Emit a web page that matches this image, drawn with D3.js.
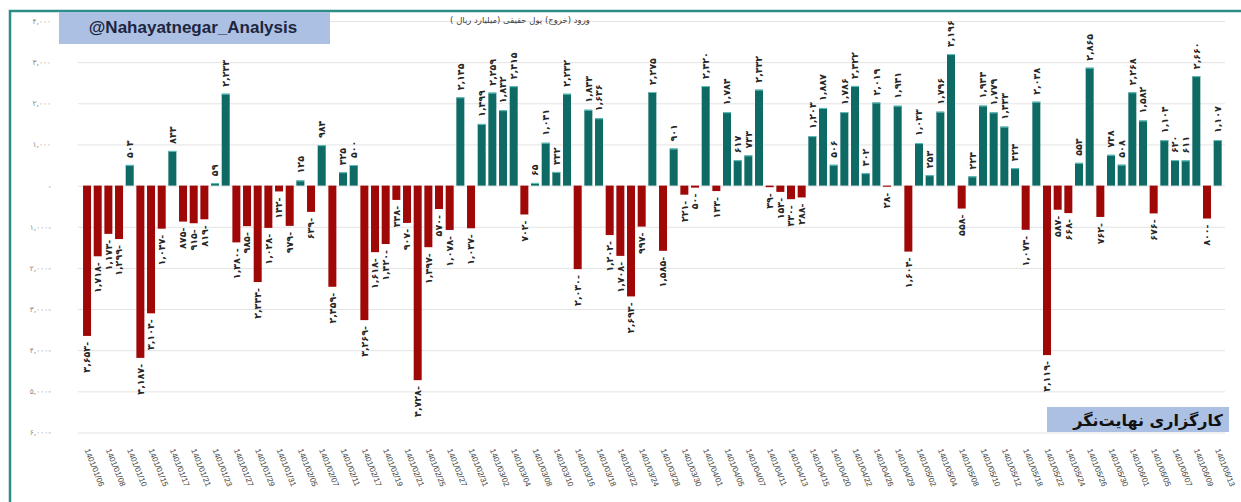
<!DOCTYPE html>
<html>
<head>
<meta charset="utf-8">
<script src="https://cdn.jsdelivr.net/npm/d3@7"></script>
<style>
  html, body { margin: 0; padding: 0; background: #ffffff; }
  svg { display: block; }
</style>
</head>
<body>
<svg id="chart" width="1241" height="502"></svg>
<script>
// ---------------- DATA ----------------
const dates = [
  "1401/01/06","1401/01/07","1401/01/08","1401/01/09","1401/01/10","1401/01/14","1401/01/15","1401/01/16",
  "1401/01/17","1401/01/20","1401/01/21","1401/01/22","1401/01/23","1401/01/24","1401/01/27","1401/01/28",
  "1401/01/29","1401/01/30","1401/01/31","1401/02/04","1401/02/05","1401/02/06","1401/02/07","1401/02/10",
  "1401/02/11","1401/02/14","1401/02/17","1401/02/18","1401/02/19","1401/02/20","1401/02/21","1401/02/24",
  "1401/02/25","1401/02/26","1401/02/27","1401/02/28","1401/02/31","1401/03/01","1401/03/02","1401/03/03",
  "1401/03/04","1401/03/07","1401/03/08","1401/03/09","1401/03/10","1401/03/11","1401/03/16","1401/03/17",
  "1401/03/18","1401/03/21","1401/03/22","1401/03/23","1401/03/24","1401/03/25","1401/03/28","1401/03/29",
  "1401/03/30","1401/03/31","1401/04/01","1401/04/04","1401/04/05","1401/04/06","1401/04/07","1401/04/08",
  "1401/04/11","1401/04/12","1401/04/13","1401/04/14","1401/04/15","1401/04/18","1401/04/20","1401/04/21",
  "1401/04/22","1401/04/25","1401/04/26","1401/04/28","1401/04/29","1401/05/01","1401/05/02","1401/05/03",
  "1401/05/04","1401/05/05","1401/05/08","1401/05/09","1401/05/10","1401/05/11","1401/05/12","1401/05/15",
  "1401/05/18","1401/05/19","1401/05/22","1401/05/23","1401/05/24","1401/05/25","1401/05/26","1401/05/29",
  "1401/05/30","1401/05/31","1401/06/01","1401/06/02","1401/06/05","1401/06/06","1401/06/07","1401/06/08",
  "1401/06/09","1401/06/12","1401/06/13"
];

// real-person money inflow (outflow), billion rials
const values = [
  -3653, -1718, -1173, -1299, 503, -4187, -3104, -1047,
  843, -875, -915, -819, 59, 2233, -1380, -985,
  -2344, -1028, -142, -979, 125, -639, 984, -2459,
  325, 500, -3269, -1618, -1420, -348, -907, -4728,
  -1497, -570, -1078, 2145, -1037, 1499, 2259, 1832,
  2415, -702, 65, 1041, 332, 2232, -2030, 1843,
  1636, -1202, -1708, -2693, -997, 2275, -1585, 901,
  -221, -50, 2420, -133, 1784, 617, 733, 2332,
  -39, -153, -330, -288, 1203, 1887, 506, 1786,
  2422, 302, 2019, -28, 1941, -1604, 1033, 253,
  1796, 3196, -558, 224, 1944, 1779, 1433, 424,
  -1074, 2038, -4119, -587, -668, 553, 2865, -762,
  748, 508, 2268, 1582, -676, 1104, 620, 611,
  2660, -800, 1107
];

const yTicks = [4000, 3000, 2000, 1000, 0, -1000, -2000, -3000, -4000, -5000, -6000];

const titleText = "@Nahayatnegar_Analysis";
const subtitleText = "ورود (خروج) پول حقیقی (میلیارد ریال )";
const brandText = "کارگزاری نهایت‌نگر";

// ---------------- HELPERS ----------------
const faDigits = "۰۱۲۳۴۵۶۷۸۹";
function toFa(str) {
  return str.replace(/[0-9]/g, d => faDigits[+d]);
}
const fmt = d3.format(",");
function labelFa(v) {
  if (v === 0) return "-";
  return v < 0 ? toFa(fmt(-v)) + "-" : toFa(fmt(v));
}

// ---------------- LAYOUT ----------------
const svg = d3.select("#chart");
const W = 1241, H = 502;

const x = d3.scaleBand()
  .domain(dates)
  .range([81.7, 1223])
  .paddingInner(0.25)
  .paddingOuter(0.125);

const y = d3.scaleLinear()
  .domain([-6000, 4000])
  .range([432.5, 21]);

const teal = "#0e6a65";
const red = "#a00808";

// outer frame
svg.append("rect")
  .attr("x", 10).attr("y", 11)
  .attr("width", W + 20).attr("height", H + 20)
  .attr("fill", "#ffffff")
  .attr("stroke", "#2f8d88")
  .attr("stroke-width", 2.5);

// gridlines + y axis labels
const yAxis = d3.axisLeft(y)
  .tickValues(yTicks)
  .tickSize(-(1225 - 78))
  .tickPadding(27)
  .tickFormat(labelFa);

const gy = svg.append("g")
  .attr("transform", "translate(78,0)")
  .call(yAxis);
gy.select(".domain").remove();
gy.selectAll(".tick line")
  .attr("stroke", "#e3e3e3")
  .attr("stroke-width", 1);
gy.selectAll(".tick text")
  .attr("fill", "#8a8a8a")
  .style("font-family", "'DejaVu Sans', sans-serif")
  .style("font-size", "7.5px");

// bars
svg.append("g")
  .selectAll("rect")
  .data(values)
  .join("rect")
  .attr("x", (d, i) => x(dates[i]))
  .attr("width", x.bandwidth())
  .attr("y", d => d >= 0 ? y(d) : y(0))
  .attr("height", d => Math.abs(y(d) - y(0)))
  .attr("fill", d => d >= 0 ? teal : red);

// light top edge for teal bars
svg.append("g")
  .selectAll("rect")
  .data(values.map((v, i) => ({v, i})).filter(d => d.v > 0))
  .join("rect")
  .attr("x", d => x(dates[d.i]))
  .attr("width", x.bandwidth())
  .attr("y", d => y(d.v))
  .attr("height", 1)
  .attr("fill", "#5fc4c0");

// data labels (rotated, reading bottom to top)
svg.append("g")
  .selectAll("text")
  .data(values)
  .join("text")
  .attr("transform", (d, i) => {
    const cx = x(dates[i]) + x.bandwidth() / 2;
    const yy = d >= 0 ? y(d) - 7 : y(d) + 6;
    return `translate(${cx},${yy}) rotate(-90)`;
  })
  .attr("dy", "0.35em")
  .attr("text-anchor", d => d >= 0 ? "start" : "end")
  .attr("fill", "#262626")
  .style("font-family", "'DejaVu Sans', sans-serif")
  .style("font-weight", "bold")
  .style("font-size", "9.5px")
  .text(labelFa);

// x axis labels (every other date)
const xAxis = d3.axisBottom(x)
  .tickValues(dates.filter((d, i) => i % 2 === 0))
  .tickSize(0)
  .tickPadding(0);
const gx = svg.append("g")
  .attr("transform", "translate(0,449)")
  .call(xAxis);
gx.select(".domain").remove();
gx.selectAll(".tick text")
  .attr("transform", "rotate(68)")
  .attr("text-anchor", "start")
  .attr("dy", "0.35em")
  .attr("x", 0).attr("y", 0)
  .attr("fill", "#404040")
  .style("font-family", "'Liberation Sans', Arial, sans-serif")
  .style("font-size", "8px");

// subtitle
svg.append("text")
  .attr("x", 520).attr("y", 23)
  .attr("text-anchor", "middle")
  .attr("direction", "rtl")
  .attr("fill", "#404040")
  .style("font-family", "'DejaVu Sans', sans-serif")
  .style("font-size", "8.5px")
  .text(subtitleText);

// title box
svg.append("rect")
  .attr("x", 59).attr("y", 12)
  .attr("width", 271).attr("height", 32)
  .attr("fill", "#abc0e2");
svg.append("text")
  .attr("x", 193).attr("y", 33)
  .attr("text-anchor", "middle")
  .attr("fill", "#1d2640")
  .style("font-family", "'Liberation Sans', Arial, sans-serif")
  .style("font-weight", "bold")
  .style("font-size", "17px")
  .text(titleText);

// brand box
svg.append("rect")
  .attr("x", 1047).attr("y", 407)
  .attr("width", 182).attr("height", 25)
  .attr("fill", "#abc0e2");
svg.append("text")
  .attr("x", 1148).attr("y", 426)
  .attr("text-anchor", "middle")
  .attr("direction", "rtl")
  .attr("fill", "#111111")
  .style("font-family", "'DejaVu Sans', sans-serif")
  .style("font-weight", "bold")
  .style("font-size", "16px")
  .text(brandText);
</script>
</body>
</html>
